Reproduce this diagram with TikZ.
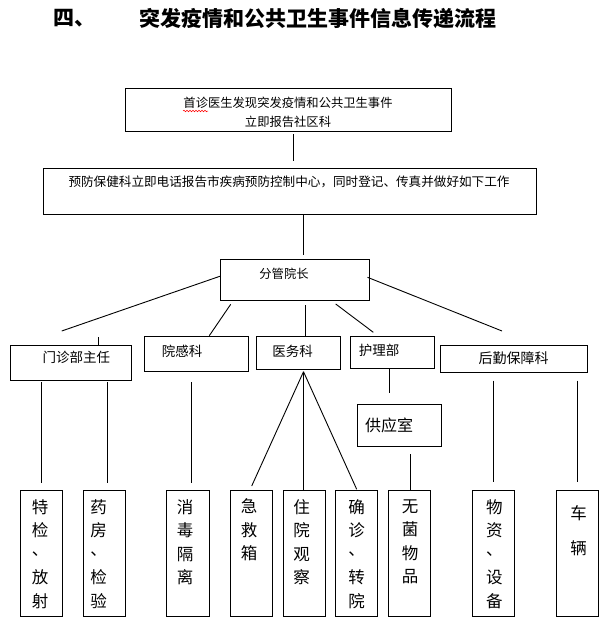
\documentclass[tikz,border=0pt]{standalone}
\usepackage{fontspec}
\setmainfont{Noto Sans CJK SC}
\usetikzlibrary{fit,decorations.pathmorphing}
\newcommand\mydun{\raisebox{0.3em}{、}}
\begin{document}
\begin{tikzpicture}[x=1pt,y=-1pt,
  bx/.style={draw, line width=0.9pt, inner sep=0pt},
  ln/.style={line width=0.9pt},
  tx/.style={inner sep=0pt, font=\fontsize{#1}{#1}\selectfont},
  tx/.default=13.5,
  vt/.style={align=center, inner sep=0pt, font=\fontsize{16.5}{23.5}\selectfont}]
\useasboundingbox (0,0) rectangle (612,634);

% title
\node[anchor=west, inner sep=0pt, font=\fontsize{21}{21}\selectfont\bfseries] (t4) at (53,18) {四、};
\node[anchor=west, inner sep=0pt, font=\fontsize{21}{21}\selectfont\bfseries] (title) at (139,18) {突发疫情和公共卫生事件信息传递流程};

% top boxes
\node[bx, fit={(125.7,88.3) (451,131)}] (b1) {};
\node[inner sep=0pt, align=center, font=\fontsize{12.3}{19}\selectfont] (t1) at (288,112.5) {首诊医生发现突发疫情和公共卫生事件\\立即报告社区科};
\coordinate (w1) at (183,111);
\coordinate (w2) at (208,111);
\draw[red, line width=0.5pt, decorate, decoration={snake, amplitude=0.8pt, segment length=3pt}] (w1) -- (w2);

\node[bx, fit={(43.3,168.3) (536.7,214.3)}] (b2) {};
\node[tx=12.6] (t2) at (289,182) {预防保健科立即电话报告市疾病预防控制中心，同时登记、传真并做好如下工作};

\node[bx, fit={(220.7,259.3) (369.3,300.3)}] (fg) {};
\node[tx=12.3] (tfg) at (284,274) {分管院长};

% middle boxes
\node[bx, fit={(10.7,345) (131.7,380)}] (mz) {};
\node[tx] (tmz) at (76.3,357.5) {门诊部主任};
\node[bx, fit={(144,336.7) (248.3,371)}] (yg) {};
\node[tx] (tyg) at (182,351) {院感科};
\node[bx, fit={(256,336.7) (340,369.5)}] (yw) {};
\node[tx] (tyw) at (292.5,351) {医务科};
\node[bx, fit={(350.7,336.7) (434.7,368)}] (hl) {};
\node[tx] (thl) at (379,350.7) {护理部};
\node[bx, fit={(440,345) (587.7,372.3)}] (hq) {};
\node[tx=14] (thq) at (513.7,358.5) {后勤保障科};
\node[bx, fit={(357.3,404.3) (441.3,446)}] (gy) {};
\node[tx=16] (tgy) at (389,425) {供应室};

% bottom boxes
\node[bx, fit={(20.7,490.7) (62.3,616.7)}] (p1) {};
\node[bx, fit={(83.3,490.7) (125.7,616.7)}] (p2) {};
\node[bx, fit={(166.7,490.7) (209,616.7)}] (p3) {};
\node[bx, fit={(230.7,490.7) (272.3,616.7)}] (p4) {};
\node[bx, fit={(283.3,490.7) (325.7,616.7)}] (p5) {};
\node[bx, fit={(335.7,490.7) (377.3,616.7)}] (p6) {};
\node[bx, fit={(388.7,490.7) (430.3,616.7)}] (p7) {};
\node[bx, fit={(472.7,490.7) (514.3,616.7)}] (p8) {};
\node[bx, fit={(556.3,490.7) (598,616.7)}] (p9) {};

\node[vt] (v1) at (40,554) {特\\检\\\mydun\\放\\射};
\node[vt] (v2) at (98.5,554) {药\\房\\\mydun\\检\\验};
\node[vt] (v3) at (185,542) {消\\毒\\隔\\离};
\node[vt] (v4) at (249,530) {急\\救\\箱};
\node[vt] (v5) at (301.7,542) {住\\院\\观\\察};
\node[vt] (v6) at (356.7,554) {确\\诊\\\mydun\\转\\院};
\node[vt] (v7) at (410,542) {无\\菌\\物\\品};
\node[vt] (v8) at (494.3,554) {物\\资\\\mydun\\设\\备};
\node[vt, font=\fontsize{16.5}{35.6}\selectfont] (v9) at (578.7,530.5) {车\\辆};

% connector end points
\coordinate (a1) at (293.3,134.3);
\coordinate (a2) at (293.3,161);
\coordinate (a3) at (303.5,255);
\coordinate (c1) at (220.7,276);
\coordinate (c1e) at (61.7,331);
\coordinate (c2) at (230.7,304.3);
\coordinate (c2e) at (209.3,335.7);
\coordinate (c3) at (305.3,305);
\coordinate (c4) at (335.7,304);
\coordinate (c4e) at (373.3,332.3);
\coordinate (c5) at (367.5,277.3);
\coordinate (c5e) at (502,331);
\coordinate (tk) at (98.3,337.3);
\coordinate (m1) at (41.7,382.3);
\coordinate (m1e) at (41.7,482.7);
\coordinate (m2) at (107.3,382.3);
\coordinate (m2e) at (107.3,482.7);
\coordinate (m3) at (191.7,382.3);
\coordinate (m3e) at (191.7,482.7);
\coordinate (ap) at (303.5,371.7);
\coordinate (ape1) at (251.7,486);
\coordinate (ape3) at (356.7,489.3);
\coordinate (h1) at (389,393.3);
\coordinate (g1) at (410,454);
\coordinate (q1) at (493.7,380.7);
\coordinate (q1e) at (493.7,482.3);
\coordinate (q2) at (577.7,380.7);
\coordinate (q2e) at (577.7,482.3);

% connectors
\draw[ln] (a1) -- (a2);
\draw[ln] (b2.south -| a3) -- (a3);
\draw[ln] (c1) -- (c1e);
\draw[ln] (c2) -- (c2e);
\draw[ln] (c3) -- (yw.north -| c3);
\draw[ln] (c4) -- (c4e);
\draw[ln] (c5) -- (c5e);
\draw[ln] (tk) -- (mz.north -| tk);
\draw[ln] (m1) -- (m1e);
\draw[ln] (m2) -- (m2e);
\draw[ln] (m3) -- (m3e);
\draw[ln] (ap) -- (ape1);
\draw[ln] (ap) -- (p5.north -| ap);
\draw[ln] (ap) -- (ape3);
\draw[ln] (hl.south -| h1) -- (h1);
\draw[ln] (g1) -- (p7.north -| g1);
\draw[ln] (q1) -- (q1e);
\draw[ln] (q2) -- (q2e);
\end{tikzpicture}
\end{document}
